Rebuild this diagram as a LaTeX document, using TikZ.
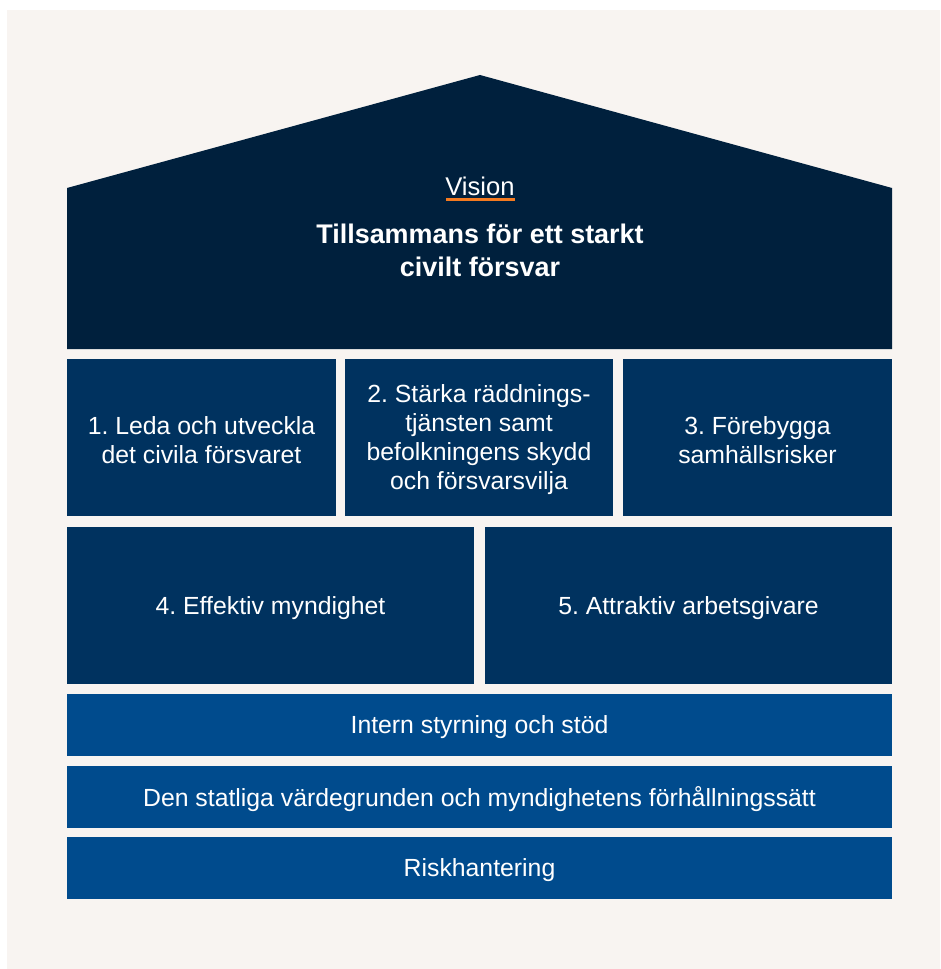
\documentclass[tikz,border=0pt]{standalone}
\usepackage{fontspec}
\setmainfont{Liberation Sans}
\frenchspacing

\definecolor{bgcream}{RGB}{248,244,241}
\definecolor{roofnavy}{RGB}{0,32,61}
\definecolor{goalblue}{RGB}{0,50,95}
\definecolor{baseblue}{RGB}{0,75,141}
\definecolor{visionorange}{RGB}{244,122,32}

\tikzset{every picture/.style={line width=0.75pt}}
\tikzset{
  boxtext/.style={align=center, text=white, font=\fontsize{18.6}{21.75}\selectfont},
  titletext/.style={align=center, text=white, font=\fontsize{20.2}{24.75}\selectfont\bfseries},
  visiontext/.style={align=center, text=white, font=\fontsize{19.2}{21.75}\selectfont}
}

\begin{document}
\begin{tikzpicture}[x=0.75pt,y=0.75pt,yscale=-1,xscale=1]
%set diagram left start at 0, and has height of 969
\useasboundingbox (0,0) rectangle (940,969);

%Shape: Rectangle [background]
\fill [white] (0,0) rectangle (940,969);
\fill [bgcream] (7,10) rectangle (940,969);

%Shape: Polygon [house roof]
\fill [roofnavy] (67,188) -- (480,75) -- (892,188) -- (892,349) -- (67,349) -- cycle ;

%Shape: Rectangle [goal 1]
\fill [goalblue] (67,359) -- (336,359) -- (336,516) -- (67,516) -- cycle ;
%Shape: Rectangle [goal 2]
\fill [goalblue] (345,359) -- (613,359) -- (613,516) -- (345,516) -- cycle ;
%Shape: Rectangle [goal 3]
\fill [goalblue] (623,359) -- (892,359) -- (892,516) -- (623,516) -- cycle ;
%Shape: Rectangle [goal 4]
\fill [goalblue] (67,527) -- (474,527) -- (474,684) -- (67,684) -- cycle ;
%Shape: Rectangle [goal 5]
\fill [goalblue] (485,527) -- (892,527) -- (892,684) -- (485,684) -- cycle ;

%Shape: Rectangle [band 1]
\fill [baseblue] (67,694) -- (892,694) -- (892,756) -- (67,756) -- cycle ;
%Shape: Rectangle [band 2]
\fill [baseblue] (67,766) -- (892,766) -- (892,828) -- (67,828) -- cycle ;
%Shape: Rectangle [band 3]
\fill [baseblue] (67,837) -- (892,837) -- (892,899) -- (67,899) -- cycle ;

%Straight Lines [vision underline]
\draw [color=visionorange, line width=2.6] (446,199.5) -- (515,199.5) ;

% Text Node
\draw (480,186) node (vision) [visiontext] {Vision};
% Text Node
\draw (480,250) node (vistitle) [titletext] {Tillsammans för ett starkt\\civilt försvar};
% Text Node
\draw (201.5,440) node (goalone) [boxtext] {1. Leda och utveckla\\det civila försvaret};
% Text Node
\draw (479,440) node (goaltwo) [boxtext] {2. Stärka räddnings-\\tjänsten samt\\befolkningens skydd\\och försvarsvilja};
% Text Node
\draw (757.5,440) node (goalthree) [boxtext] {3. Förebygga\\samhällsrisker};
% Text Node
\draw (270.5,608) node (goalfour) [boxtext] {4. Effektiv myndighet};
% Text Node
\draw (688.5,608) node (goalfive) [boxtext] {5. Attraktiv arbetsgivare};
% Text Node
\draw (479.5,727) node (bandone) [boxtext] {Intern styrning och stöd};
% Text Node
\draw (479.5,799) node (bandtwo) [boxtext] {Den statliga värdegrunden och myndighetens förhållningssätt};
% Text Node
\draw (479.5,870) node (bandthree) [boxtext] {Riskhantering};

\end{tikzpicture}
\end{document}
